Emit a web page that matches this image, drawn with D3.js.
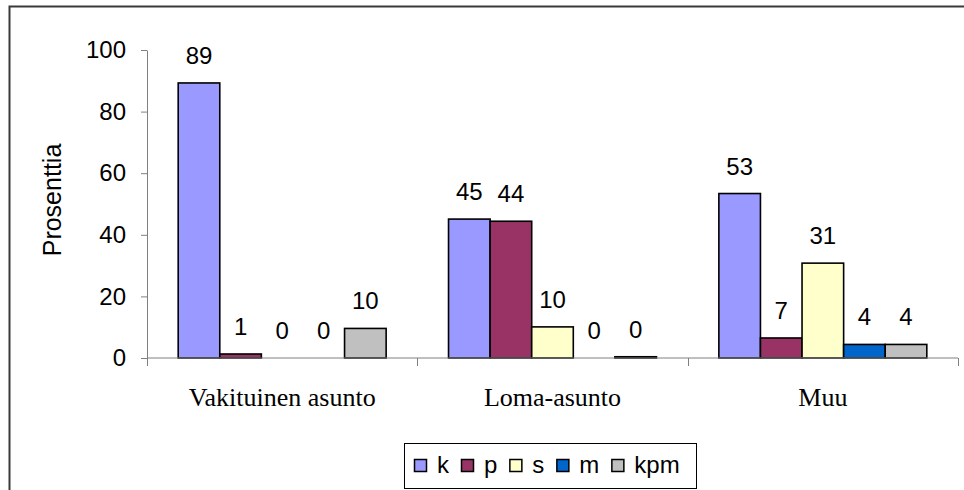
<!DOCTYPE html>
<html lang="fi">
<head>
<meta charset="UTF-8">
<title>Prosenttia</title>
<style>
  body { margin: 0; background: #fff; }
  svg { display: block; }
</style>
</head>
<body>
<script src="https://d3js.org/d3.v7.min.js"></script>
<div id="chart"></div>
<script>
    // categories and series
    const categories = ["Vakituinen asunto", "Loma-asunto", "Muu"];
    const seriesNames = ["k", "p", "s", "m", "kpm"];
    const seriesColors = ["#9999FF", "#993366", "#FFFFCC", "#0066CC", "#C0C0C0"];
    const k   = [89.3, 45.1, 53.4];
    const p   = [1.3, 44.4, 6.5];
    const s   = [0, 10.1, 30.8];
    const m   = [0, 0, 4.4];
    const kpm = [9.6, 0.4, 4.4];
    const yTicks = [0, 20, 40, 60, 80, 100];

    const series = [k, p, s, m, kpm];

    const W = 964, H = 490;
    const plot = {left: 147, right: 958, top: 50, bottom: 358};
    const sans = "'Liberation Sans', Arial, sans-serif";
    const serif = "'Liberation Serif', 'Times New Roman', serif";

    const svg = d3.select("#chart").append("svg")
      .attr("width", W).attr("height", H);

    // outer chart frame
    svg.append("rect")
      .attr("x", 9.5).attr("y", 6.5)
      .attr("width", W + 20).attr("height", H + 20)
      .attr("fill", "none").attr("stroke", "#3a3a3a").attr("stroke-width", 2);

    const x0 = d3.scaleBand().domain(categories)
      .range([plot.left, plot.right]).padding(0);
    const x1 = d3.scaleBand().domain(seriesNames)
      .range([0, x0.bandwidth()]).paddingInner(0).paddingOuter(0.75);
    const y = d3.scaleLinear().domain([0, 100]).range([plot.bottom, plot.top]);

    // y axis
    const yAxis = svg.append("g")
      .attr("transform", `translate(${plot.left},0)`)
      .call(d3.axisLeft(y).tickValues(yTicks).tickSize(6).tickPadding(15).tickSizeOuter(0));
    yAxis.select(".domain").attr("stroke", "#808080");
    yAxis.selectAll(".tick line").attr("stroke", "#808080");
    yAxis.selectAll(".tick text")
      .attr("font-family", sans).attr("font-size", 24).attr("fill", "#000");

    svg.append("text")
      .attr("transform", `translate(61,${(plot.top + plot.bottom) / 2 - 4}) rotate(-90)`)
      .attr("text-anchor", "middle")
      .attr("font-family", sans).attr("font-size", 25)
      .text("Prosenttia");

    // bars
    const rows = [];
    categories.forEach((c, i) => {
      seriesNames.forEach((sn, j) => {
        rows.push({cat: c, name: sn, value: series[j][i], color: seriesColors[j]});
      });
    });

    svg.append("g").selectAll("rect")
      .data(rows.filter(d => d.value > 0))
      .join("rect")
      .attr("x", d => x0(d.cat) + x1(d.name))
      .attr("y", d => y(d.value))
      .attr("width", x1.bandwidth())
      .attr("height", d => plot.bottom - y(d.value))
      .attr("fill", d => d.color)
      .attr("stroke", "#000").attr("stroke-width", 1.6);

    // data labels
    svg.append("g").selectAll("text")
      .data(rows)
      .join("text")
      .attr("x", d => x0(d.cat) + x1(d.name) + x1.bandwidth() / 2)
      .attr("y", d => y(d.value) - 19)
      .attr("text-anchor", "middle")
      .attr("font-family", sans).attr("font-size", 24)
      .text(d => Math.round(d.value));

    // x axis
    const xAxis = svg.append("g");
    xAxis.append("line")
      .attr("x1", plot.left).attr("x2", plot.right)
      .attr("y1", plot.bottom).attr("y2", plot.bottom)
      .attr("stroke", "#808080");
    const bounds = categories.map(c => x0(c)).concat([x0(categories[categories.length - 1]) + x0.bandwidth()]);
    xAxis.selectAll(".tk").data(bounds).join("line")
      .attr("x1", d => Math.round(d) + 0.5).attr("x2", d => Math.round(d) + 0.5)
      .attr("y1", plot.bottom).attr("y2", plot.bottom + 8)
      .attr("stroke", "#808080");
    xAxis.selectAll(".cat").data(categories).join("text")
      .attr("x", d => x0(d) + x0.bandwidth() / 2)
      .attr("y", 406)
      .attr("text-anchor", "middle")
      .attr("font-family", serif).attr("font-size", 26)
      .text(d => d);

    // legend
    const lg = svg.append("g");
    lg.append("rect")
      .attr("x", 404.5).attr("y", 443.5).attr("width", 292).attr("height", 45)
      .attr("fill", "#fff").attr("stroke", "#000");
    let lx = 414;
    seriesNames.forEach((sn, j) => {
      lg.append("rect")
        .attr("x", lx + 0.5).attr("y", 459.5).attr("width", 12).attr("height", 12)
        .attr("fill", seriesColors[j]).attr("stroke", "#000").attr("stroke-width", 1.5);
      const t = lg.append("text")
        .attr("x", lx + 23).attr("y", 473)
        .attr("font-family", sans).attr("font-size", 24)
        .text(sn);
      lx = lx + 23 + t.node().getComputedTextLength() + 12;
    });
</script>
</body>
</html>
